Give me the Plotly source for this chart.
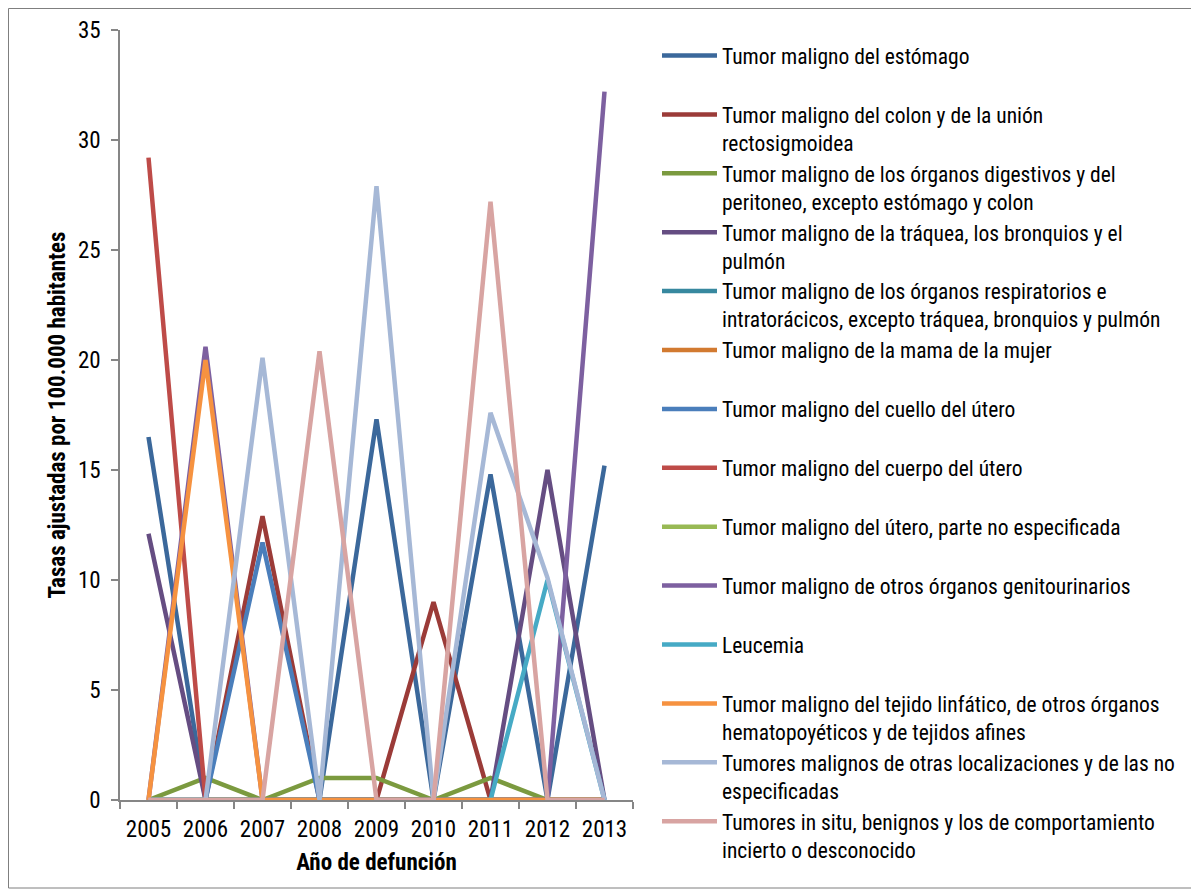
import plotly.graph_objects as go

years = ["2005", "2006", "2007", "2008", "2009", "2010", "2011", "2012", "2013"]

series_names = [
    "Tumor maligno del estómago",
    "Tumor maligno del colon y de la unión<br>rectosigmoidea",
    "Tumor maligno de los órganos digestivos y del<br>peritoneo, excepto estómago y colon",
    "Tumor maligno de la tráquea, los bronquios y el<br>pulmón",
    "Tumor maligno de los órganos respiratorios e<br>intratorácicos, excepto tráquea, bronquios y pulmón",
    "Tumor maligno de la mama de la mujer",
    "Tumor maligno del cuello del útero",
    "Tumor maligno del cuerpo del útero",
    "Tumor maligno del útero, parte no especificada",
    "Tumor maligno de otros órganos genitourinarios",
    "Leucemia",
    "Tumor maligno del tejido linfático, de otros órganos<br>hematopoyéticos y de tejidos afines",
    "Tumores malignos de otras localizaciones y de las no<br>especificadas",
    "Tumores in situ, benignos y los de comportamiento<br>incierto o desconocido",
]

estomago = [16.5, 0, 0, 0, 17.3, 0, 14.8, 0, 15.2]
colon = [0, 0, 12.9, 0, 0, 9.0, 0, 0, 0]
digestivos = [0, 1.0, 0, 1.0, 1.0, 0, 1.0, 0, 0]
traquea = [12.1, 0, 0, 0, 0, 0, 0, 15.0, 0]
respiratorios = [0, 0, 0, 0, 0, 0, 0, 0, 0]
mama = [0, 0, 0, 0, 0, 0, 0, 0, 0]
cuello_utero = [0, 0, 11.7, 0, 0, 0, 0, 0, 0]
cuerpo_utero = [29.2, 0, 0, 0, 0, 0, 0, 0, 0]
utero_ne = [0, 0, 0, 0, 0, 0, 0, 0, 0]
genitourinarios = [0, 20.6, 0, 0, 0, 0, 0, 0, 32.2]
leucemia = [0, 0, 0, 0, 0, 0, 0, 10.0, 0]
linfatico = [0, 20.0, 0, 0, 0, 0, 0, 0, 0]
otras_localizaciones = [0, 0, 20.1, 0, 27.9, 0, 17.6, 10.1, 0]
in_situ = [0, 0, 0, 20.4, 0, 0, 27.2, 0, 0]

series_values = [estomago, colon, digestivos, traquea, respiratorios, mama,
                 cuello_utero, cuerpo_utero, utero_ne, genitourinarios,
                 leucemia, linfatico, otras_localizaciones, in_situ]

colors = ["#3B689B", "#9B3B38", "#7B9A3F", "#654D82", "#37889F", "#D27A30",
          "#4A7EBB", "#BE4B48", "#98B954", "#7D60A0", "#46AAC5", "#F69240",
          "#A6B8D6", "#D8A4A2"]

FONT = "Liberation Sans Narrow, Arial Narrow, Roboto Condensed, Liberation Sans, Arial, sans-serif"

fig = go.Figure()
for i, (name, vals, col) in enumerate(zip(series_names, series_values, colors)):
    label = name if "<br>" in name else name + "<br>\u00a0"
    fig.add_trace(go.Scatter(
        x=years, y=vals, mode="lines", name=label,
        line=dict(color=col, width=4.5),
        legendgroup="g%d" % i,
    ))

# page has an 8px body margin; figure sized to fit inside the 1199x892 window
OFF = 8
W, H = 1191, 884
PL, PR, PT, PB = 120, 633, 30, 800   # plot area in page pixels
ml, mt = PL - OFF, PT - OFF
pw, ph = PR - PL, PB - PT
mr = W - ml - pw
mb = H - mt - ph

def px_x(p):
    return (p - PL) / pw

def px_y(p):
    return (PB - p) / ph

fig.update_layout(
    width=W, height=H,
    margin=dict(l=ml, r=mr, t=mt, b=mb, pad=0, autoexpand=False),
    paper_bgcolor="white", plot_bgcolor="white",
    font=dict(family=FONT, size=23, color="black"),
    showlegend=True,
    legend=dict(
        x=px_x(657), xanchor="left",
        y=px_y(35), yanchor="top",
        maxheight=880,
        font=dict(family=FONT, size=21.5, color="black"),
        valign="top", tracegroupgap=0, itemwidth=55,
        bgcolor="rgba(0,0,0,0)", borderwidth=0,
    ),
    xaxis=dict(
        type="category", range=[-0.5, 8.5],
        showline=True, linecolor="#868686", linewidth=1.5,
        ticks="outside", ticklen=7, tickcolor="#868686", tickwidth=1.5,
        tickson="boundaries", showgrid=False, zeroline=False,
        tickfont=dict(family=FONT, size=23, color="black"),
        ticklabelstandoff=8,
        title=dict(text="<b>Año de defunción</b>", standoff=12,
                   font=dict(family=FONT, size=23, color="black")),
    ),
    yaxis=dict(
        range=[0, 35], tickmode="linear", tick0=0, dtick=5,
        showline=True, linecolor="#868686", linewidth=1.5,
        ticks="outside", ticklen=7, tickcolor="#868686", tickwidth=1.5,
        showgrid=False, zeroline=False,
        tickfont=dict(family=FONT, size=23, color="black"),
        ticklabelstandoff=6,
        title=dict(text="<b>Tasas ajustadas por 100.000 habitantes</b>", standoff=6,
                   font=dict(family=FONT, size=23, color="black")),
    ),
    shapes=[dict(type="rect", xref="paper", yref="paper",
                 x0=px_x(8.5), x1=px_x(1196), y0=px_y(888), y1=px_y(8.5),
                 line=dict(color="#7F7F7F", width=1), fillcolor="rgba(0,0,0,0)",
                 layer="below")],
)

fig.write_html("out.html")
